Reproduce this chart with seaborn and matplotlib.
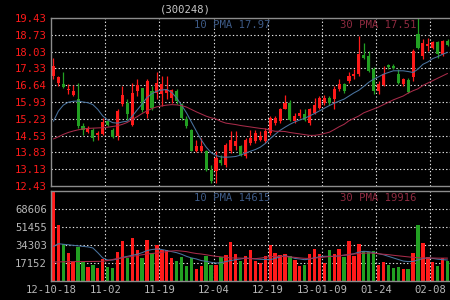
import numpy as np
import pandas as pd
import matplotlib
matplotlib.use("Agg")
import matplotlib.pyplot as plt
import seaborn as sns

# ---------------- data ----------------
date_labels = ["12-10-18", "11-02", "11-19", "12-04", "12-19", "13-01-09", "01-24", "02-08"]

opens = [17.01, 16.74, 16.67, 16.42, 16.21, 16.04, 14.95, 14.68, 14.78, 14.54,
         14.60, 15.13, 14.78, 14.50, 15.83, 15.90, 14.99, 16.39, 16.50, 15.41,
         16.40, 16.32, 16.25, 16.32, 16.11, 16.39, 15.83, 15.24, 14.78, 13.87,
         13.87, 13.87, 13.11, 13.04, 13.52, 13.31, 13.87, 14.08, 14.08, 13.66,
         14.22, 14.29, 14.36, 14.29, 14.64, 15.06, 15.13, 15.64, 15.89, 15.13,
         15.34, 15.41, 15.06, 15.48, 15.69, 15.89, 16.10, 16.04, 16.46, 16.67,
         16.81, 17.02, 17.09, 17.90, 17.85, 17.30, 16.39, 16.64, 17.46, 17.44,
         17.09, 16.67, 16.83, 16.96, 18.76, 17.85, 18.27, 18.20, 18.41, 17.92,
         18.48]
highs = [17.78, 17.02, 17.16, 16.67, 16.62, 16.74, 15.06, 14.92, 14.85, 14.71,
         15.27, 15.16, 14.85, 15.62, 16.60, 16.04, 16.74, 16.88, 16.53, 16.88,
         16.60, 17.16, 17.02, 17.02, 16.46, 16.46, 15.90, 15.34, 14.81, 14.36,
         14.43, 13.94, 13.32, 13.87, 13.73, 14.22, 14.71, 14.71, 14.15, 14.43,
         14.78, 14.78, 14.71, 14.85, 15.34, 15.34, 15.69, 16.24, 16.03, 15.48,
         15.62, 15.62, 15.69, 16.10, 16.17, 16.24, 16.17, 16.60, 16.88, 16.74,
         17.16, 17.30, 18.69, 18.37, 18.06, 17.37, 16.81, 17.44, 17.51, 17.51,
         17.30, 16.95, 16.95, 18.13, 19.43, 18.55, 18.59, 18.48, 18.48, 18.51,
         18.55]
lows = [16.88, 16.60, 16.53, 16.25, 16.18, 14.85, 14.57, 14.64, 14.32, 14.36,
        14.54, 14.92, 14.43, 14.36, 15.76, 15.20, 14.92, 16.18, 15.50, 15.27,
        15.60, 16.04, 15.76, 16.04, 15.90, 15.83, 15.20, 14.85, 13.87, 13.85,
        13.85, 13.04, 12.55, 12.55, 13.32, 13.24, 13.80, 13.94, 13.66, 13.59,
        14.15, 14.22, 14.29, 14.22, 14.57, 14.99, 15.06, 15.62, 15.13, 15.06,
        15.27, 15.13, 14.99, 15.41, 15.62, 15.82, 15.82, 15.62, 16.39, 16.32,
        16.74, 16.88, 17.02, 17.71, 17.16, 16.25, 16.25, 16.60, 17.30, 17.30,
        16.67, 16.60, 16.32, 16.79, 18.13, 17.71, 18.06, 18.13, 17.78, 17.85,
        18.27]
closes = [17.43, 16.97, 16.56, 16.46, 16.39, 14.92, 14.78, 14.85, 14.43, 14.64,
          15.10, 14.96, 14.46, 15.55, 16.22, 15.41, 16.32, 16.63, 15.60, 16.81,
          15.70, 16.74, 16.67, 16.46, 16.42, 15.97, 15.27, 14.92, 13.90, 14.08,
          14.08, 13.11, 12.62, 13.59, 13.38, 14.15, 14.36, 14.29, 13.73, 14.36,
          14.43, 14.64, 14.50, 14.71, 15.27, 15.27, 15.62, 15.89, 15.20, 15.34,
          15.48, 15.20, 15.62, 15.82, 16.10, 16.10, 15.89, 16.49, 16.67, 16.39,
          17.02, 17.11, 17.95, 17.78, 17.23, 16.39, 16.70, 17.09, 17.37, 17.34,
          16.74, 16.88, 16.36, 18.05, 18.20, 18.37, 18.34, 18.41, 17.92, 18.48,
          18.32]
volumes = [85758, 53500, 34800, 26500, 18000, 32000, 18000, 13300, 15400, 12400,
           20800, 13300, 12700, 27600, 38200, 21500, 40800, 29700, 22000, 39100,
           26500, 34400, 29700, 29500, 22300, 19200, 23300, 14700, 21700, 11600,
           14700, 23800, 15700, 15700, 23000, 25000, 37000, 26000, 19000, 23500,
           29900, 18700, 17100, 23500, 34600, 26700, 25100, 25700, 24100, 20300,
           14600, 15600, 25700, 30800, 25700, 17100, 29900, 25700, 30800, 22500,
           38400, 23500, 35300, 28300, 27300, 28300, 14900, 18100, 14900, 12400,
           13000, 11400, 11400, 26700, 53000, 36200, 22500, 18100, 14000, 21900,
           19400]
ma10 = [15.13, 15.55, 15.80, 15.92, 15.96, 15.97, 15.93, 15.90, 15.82, 15.62,
        15.35, 15.18, 15.07, 15.05, 15.10, 15.13, 15.34, 15.60, 15.85, 16.12,
        16.28, 16.38, 16.43, 16.45, 16.33, 16.10, 15.80, 15.48, 15.10, 14.72,
        14.35, 14.05, 13.82, 13.70, 13.64, 13.63, 13.64, 13.66, 13.72, 13.80,
        13.88, 13.95, 14.05, 14.20, 14.40, 14.58, 14.75, 14.88, 15.00, 15.10,
        15.18, 15.25, 15.35, 15.45, 15.56, 15.67, 15.78, 15.88, 15.97, 16.05,
        16.18, 16.31, 16.42, 16.58, 16.75, 16.88, 16.98, 17.09, 17.16, 17.23,
        17.23, 17.23, 17.20, 17.16, 17.30, 17.50, 17.60, 17.74, 17.82, 17.92,
        18.00]
ma30 = [14.39, 14.48, 14.58, 14.66, 14.72, 14.77, 14.81, 14.83, 14.84, 14.85,
        14.86, 14.88, 14.91, 14.94, 15.00, 15.08, 15.20, 15.32, 15.45, 15.56,
        15.66, 15.73, 15.77, 15.80, 15.82, 15.81, 15.78, 15.72, 15.62, 15.52,
        15.43, 15.34, 15.27, 15.22, 15.12, 15.05, 15.02, 14.99, 14.95, 14.92,
        14.89, 14.86, 14.83, 14.81, 14.75, 14.71, 14.71, 14.70, 14.66, 14.63,
        14.60, 14.57, 14.54, 14.54, 14.57, 14.62, 14.67, 14.78, 14.90, 15.00,
        15.15, 15.25, 15.35, 15.48, 15.56, 15.64, 15.72, 15.82, 15.92, 16.02,
        16.10, 16.18, 16.30, 16.40, 16.48, 16.62, 16.72, 16.82, 16.92, 17.02,
        17.12]
vma10 = [33000, 35500, 35000, 34500, 34000, 33500, 33000, 32500, 31500, 27000,
         22000, 20000, 20000, 21000, 22500, 23500, 24500, 25500, 27000, 29000,
         30000, 30500, 30000, 29000, 28000, 27000, 25500, 23500, 22000, 21000,
         19500, 18700, 17800, 17100, 17500, 18500, 19500, 20300, 21000, 21900,
         21500, 21000, 20700, 20500, 20300, 21500, 23000, 24100, 23000, 21500,
         21000, 20300, 21000, 22000, 23000, 23500, 23500, 23500, 24000, 24500,
         25100, 26000, 27500, 28300, 28000, 27000, 26000, 25000, 23500, 22000,
         20500, 19000, 18500, 18700, 20000, 21500, 21900, 21500, 20800, 20300,
         20000]
vma30 = [18100, 18200, 18300, 18400, 18500, 18500, 18500, 18600, 18600, 18700,
         18700, 19500, 20500, 21500, 22000, 22800, 23500, 24200, 25000, 25700,
         26200, 26700, 27300, 28000, 28600, 28900, 28500, 28000, 27000, 26200,
         25700, 25000, 24200, 23500, 23000, 22500, 22000, 21900, 21800, 21600,
         21300, 21300, 21800, 22500, 23000, 23500, 23500, 23300, 23000, 22500,
         22000, 21600, 21500, 21800, 22300, 22800, 23300, 23500, 24000, 24700,
         25300, 25700, 26200, 26500, 26700, 26500, 26000, 25500, 25100, 24500,
         24000, 23500, 23000, 22500, 22200, 21900, 21900, 21900, 21800, 21800,
         21800]
price_ticks = [12.43, 13.13, 13.83, 14.53, 15.23, 15.93, 16.64, 17.33, 18.03, 18.73, 19.43]
vol_ticks = [17152, 34303, 51455, 68606]
vol_max = 85758
title_text = "(300248)"
price_legend = ["10 PMA 17.97", "30 PMA 17.51"]
vol_legend = ["10 PMA 14615", "30 PMA 19916"]

# ---------------- style ----------------
RED = "#ff1a1a"
GREEN = "#22a022"
BLUE_MA = "#4a74a0"
RED_MA = "#a82c4a"
BLUE_TXT = "#3d5a86"
RED_TXT = "#8e2b40"
FRAME = "#8c8c8c"
GRID = "#e6e6e6"
LABEL_GRAY = "#b8b8b8"
DOTS = (0, (1.2, 2.0))

sns.set_theme(style="dark", rc={
    "axes.facecolor": "black",
    "figure.facecolor": "black",
    "savefig.facecolor": "black",
    "axes.grid": False,
})
plt.rcParams['font.family'] = ['DejaVu Sans Mono', 'DejaVu Sans']

df = pd.DataFrame({
    "idx": np.arange(len(opens)),
    "open": opens, "high": highs, "low": lows, "close": closes,
    "volume": volumes, "ma10": ma10, "ma30": ma30,
    "vma10": vma10, "vma30": vma30,
})
df["dir"] = np.where(df["close"] >= df["open"], "up", "down")
colors = np.where(df["dir"] == "up", RED, GREEN)

W, H = 450, 300
fig = plt.figure(figsize=(4.5, 3.0), dpi=100)
axp = fig.add_axes([51 / W, 1 - 186 / H, 399 / W, 168 / H])
axv = fig.add_axes([51 / W, 1 - 281 / H, 399 / W, 90 / H])

n = len(df)
grid_x = [11 * k - 0.5 for k in range(len(date_labels))]

for ax in (axp, axv):
    ax.set_facecolor("black")
    for s in ("left", "top", "bottom"):
        ax.spines[s].set_color(FRAME)
        ax.spines[s].set_linewidth(1.0)
        ax.spines[s].set_visible(True)
        ax.spines[s].set_zorder(6)
    ax.spines["right"].set_visible(False)

# ---- price panel ----
for y in price_ticks[1:-1]:
    axp.axhline(y, color=GRID, linestyle=DOTS, linewidth=0.8, zorder=1)
for x in grid_x[1:]:
    axp.axvline(x, color=GRID, linestyle=DOTS, linewidth=0.8, zorder=1)

body_lo = np.minimum(df["open"], df["close"])
body_h = np.maximum(np.abs(df["close"] - df["open"]), 0.03)
axp.vlines(df["idx"], df["low"], df["high"], colors=colors, linewidth=0.9, zorder=3)
axp.bar(df["idx"], body_h, bottom=body_lo, width=0.62, color=colors, linewidth=0, zorder=4)
sns.lineplot(data=df, x="idx", y="ma10", ax=axp, color=BLUE_MA, linewidth=0.75, zorder=5)
sns.lineplot(data=df, x="idx", y="ma30", ax=axp, color=RED_MA, linewidth=0.75, zorder=5)

axp.set_xlim(-0.5, n - 0.5)
axp.set_ylim(12.43, 19.43)
axp.set_yticks(price_ticks)
axp.set_yticklabels([f"{v:.2f}" for v in price_ticks])
axp.set_xticks([])
axp.tick_params(axis="y", length=0, pad=3, labelsize=7.6, colors=RED)
axp.set_xlabel("")
axp.set_ylabel("")

# ---- volume panel ----
for y in vol_ticks:
    axv.axhline(y, color=GRID, linestyle=DOTS, linewidth=0.8, zorder=1)
for x in grid_x[1:]:
    axv.axvline(x, color=GRID, linestyle=DOTS, linewidth=0.8, zorder=1)

sns.barplot(data=df, x="idx", y="volume", hue="dir", palette={"up": RED, "down": GREEN},
            native_scale=True, dodge=False, width=0.68, saturation=1, errorbar=None,
            legend=False, linewidth=0, ax=axv, zorder=3)
sns.lineplot(data=df, x="idx", y="vma10", ax=axv, color=BLUE_MA, linewidth=0.75, zorder=5)
sns.lineplot(data=df, x="idx", y="vma30", ax=axv, color=RED_MA, linewidth=0.75, zorder=5)

axv.set_xlim(-0.5, n - 0.5)
axv.set_ylim(0, vol_max)
axv.set_yticks(vol_ticks)
axv.set_yticklabels([str(v) for v in vol_ticks])
axv.set_xticks(grid_x)
axv.set_xticklabels(date_labels)
axv.tick_params(axis="y", length=0, pad=3, labelsize=7.6, colors=LABEL_GRAY)
axv.tick_params(axis="x", length=0, pad=3, labelsize=7.6, colors=LABEL_GRAY)
axv.set_xlabel("")
axv.set_ylabel("")

# ---- texts ----
fig.text(185 / W, 1 - 9 / H, title_text, ha="center", va="center", fontsize=7.6, color="#c8c8c8")
fig.text(194 / W, 1 - 25 / H, price_legend[0], ha="left", va="center", fontsize=7.6, color=BLUE_TXT)
fig.text(340 / W, 1 - 25 / H, price_legend[1], ha="left", va="center", fontsize=7.6, color=RED_TXT)
fig.text(194 / W, 1 - 198 / H, vol_legend[0], ha="left", va="center", fontsize=7.6, color=BLUE_TXT)
fig.text(340 / W, 1 - 198 / H, vol_legend[1], ha="left", va="center", fontsize=7.6, color=RED_TXT)

fig.savefig("out.png", dpi=100, facecolor="black")
